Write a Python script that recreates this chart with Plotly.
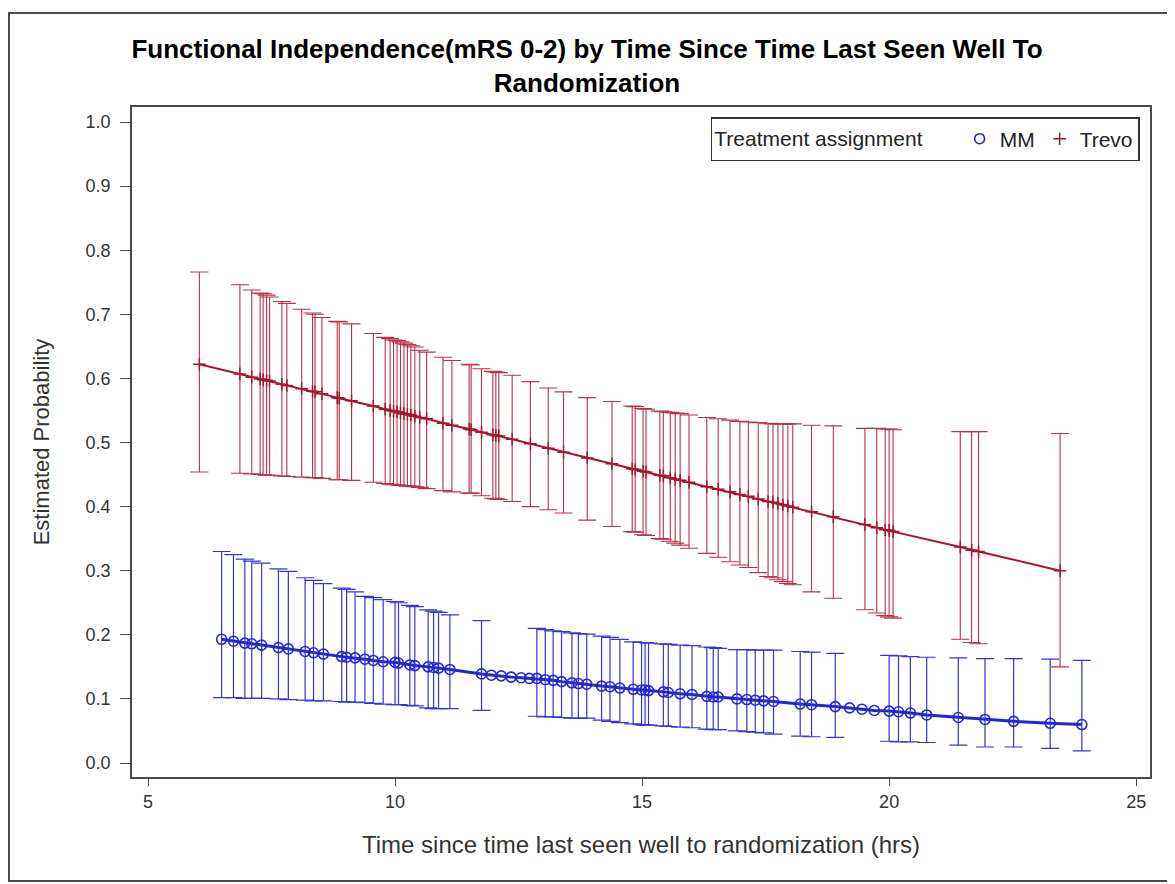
import plotly.graph_objects as go

# ---------------- data ----------------
trevo_x = [6.04, 6.86, 7.10, 7.27, 7.33, 7.40, 7.46, 7.71, 7.81, 8.11, 8.33, 8.38, 8.52, 8.83, 8.87,
           9.12, 9.56, 9.80, 9.90, 9.97, 10.04, 10.11, 10.18, 10.25, 10.32, 10.40, 10.50, 10.64,
           10.97, 11.15, 11.50, 11.54, 11.75, 11.98, 12.04, 12.10, 12.37, 12.74, 13.10, 13.41,
           13.89, 14.39, 14.80, 14.86, 15.02, 15.08, 15.36, 15.43, 15.57, 15.67, 15.77, 15.95,
           16.31, 16.54, 16.78, 16.98, 17.15, 17.35, 17.55, 17.65, 17.75, 17.85, 17.95, 18.05,
           18.43, 18.87, 19.51, 19.75, 19.92, 20.00, 20.08, 21.44, 21.67, 21.81, 23.46]
trevo_p = [0.622, 0.607, 0.602, 0.599, 0.598, 0.597, 0.596, 0.591, 0.589, 0.584, 0.580, 0.579,
           0.576, 0.570, 0.569, 0.565, 0.557, 0.552, 0.550, 0.549, 0.548, 0.546, 0.545, 0.544,
           0.543, 0.541, 0.539, 0.537, 0.530, 0.527, 0.521, 0.520, 0.516, 0.512, 0.511, 0.510,
           0.505, 0.498, 0.491, 0.485, 0.476, 0.467, 0.459, 0.458, 0.455, 0.454, 0.449, 0.448,
           0.445, 0.443, 0.441, 0.438, 0.431, 0.427, 0.423, 0.419, 0.416, 0.412, 0.408, 0.407,
           0.405, 0.403, 0.401, 0.399, 0.392, 0.384, 0.372, 0.367, 0.364, 0.363, 0.361, 0.337,
           0.332, 0.330, 0.300]
trevo_upper = [0.766, 0.746, 0.738, 0.733, 0.732, 0.730, 0.727, 0.720, 0.717, 0.708, 0.702, 0.700,
               0.695, 0.689, 0.688, 0.685, 0.670, 0.664, 0.662, 0.660, 0.659, 0.657, 0.655, 0.653,
               0.651, 0.649, 0.644, 0.641, 0.633, 0.628, 0.622, 0.621, 0.615, 0.611, 0.610, 0.609,
               0.605, 0.595, 0.585, 0.579, 0.570, 0.564, 0.557, 0.556, 0.553, 0.552, 0.549, 0.548,
               0.547, 0.546, 0.545, 0.543, 0.539, 0.537, 0.535, 0.533, 0.532, 0.531, 0.530, 0.529,
               0.529, 0.529, 0.529, 0.529, 0.527, 0.526, 0.522, 0.522, 0.521, 0.521, 0.520, 0.517,
               0.517, 0.517, 0.514]
trevo_lower = [0.454, 0.452, 0.451, 0.450, 0.450, 0.449, 0.449, 0.448, 0.447, 0.446, 0.445, 0.445,
               0.444, 0.442, 0.442, 0.441, 0.438, 0.436, 0.435, 0.434, 0.434, 0.433, 0.433, 0.432,
               0.432, 0.431, 0.430, 0.428, 0.425, 0.423, 0.421, 0.421, 0.417, 0.413, 0.412, 0.411,
               0.408, 0.400, 0.395, 0.390, 0.379, 0.369, 0.361, 0.360, 0.356, 0.355, 0.350, 0.349,
               0.346, 0.343, 0.340, 0.335, 0.327, 0.321, 0.314, 0.309, 0.305, 0.297, 0.291, 0.289,
               0.286, 0.283, 0.280, 0.278, 0.267, 0.257, 0.239, 0.234, 0.230, 0.228, 0.226, 0.193,
               0.188, 0.186, 0.150]

mm_x = [6.49, 6.73, 6.96, 7.10, 7.30, 7.64, 7.84, 8.18, 8.35, 8.55, 8.92, 9.02, 9.19, 9.39, 9.56,
        9.76, 10.00, 10.07, 10.30, 10.40, 10.67, 10.78, 10.88, 11.11, 11.75, 12.87, 13.04, 13.20,
        13.37, 13.58, 13.71, 13.88, 14.18, 14.35, 14.55, 14.82, 14.99, 15.06, 15.13, 15.43, 15.53,
        15.77, 16.01, 16.31, 16.44, 16.54, 16.92, 17.12, 17.29, 17.46, 17.66, 18.20, 18.43, 18.91,
        20.00, 20.19, 20.43, 20.76, 21.40, 21.94, 22.52, 23.26, 23.90]
mm_p = [0.193, 0.190, 0.187, 0.186, 0.184, 0.180, 0.178, 0.174, 0.172, 0.170, 0.166, 0.165, 0.164,
        0.162, 0.160, 0.158, 0.157, 0.156, 0.153, 0.152, 0.150, 0.149, 0.148, 0.146, 0.139, 0.132,
        0.130, 0.129, 0.127, 0.125, 0.124, 0.123, 0.120, 0.119, 0.117, 0.115, 0.114, 0.114, 0.113,
        0.111, 0.110, 0.108, 0.107, 0.104, 0.103, 0.103, 0.100, 0.099, 0.098, 0.097, 0.096, 0.092,
        0.091, 0.088, 0.081, 0.080, 0.078, 0.075, 0.071, 0.068, 0.065, 0.062, 0.060]
mm_upper = [0.330, 0.325, 0.318, 0.315, 0.312, 0.303, 0.299, 0.289, 0.285, 0.280, 0.273, 0.271,
            0.267, 0.260, 0.258, 0.255, 0.252, 0.250, 0.246, 0.244, 0.239, 0.237, 0.235, 0.231,
            0.222, 0.210, 0.208, 0.206, 0.205, 0.203, 0.202, 0.201, 0.198, 0.196, 0.193, 0.189,
            0.188, 0.188, 0.187, 0.186, 0.185, 0.184, 0.183, 0.181, 0.180, 0.179, 0.177, 0.177,
            0.176, 0.176, 0.176, 0.174, 0.173, 0.171, 0.168, 0.167, 0.166, 0.165, 0.164, 0.163,
            0.163, 0.162, 0.160]
mm_lower = [0.102, 0.102, 0.101, 0.101, 0.101, 0.100, 0.099, 0.098, 0.097, 0.097, 0.096, 0.095,
            0.095, 0.094, 0.093, 0.092, 0.091, 0.091, 0.090, 0.089, 0.086, 0.085, 0.085, 0.085,
            0.082, 0.073, 0.072, 0.072, 0.071, 0.070, 0.070, 0.070, 0.067, 0.065, 0.063, 0.061,
            0.060, 0.059, 0.059, 0.058, 0.057, 0.056, 0.055, 0.053, 0.052, 0.052, 0.050, 0.049,
            0.048, 0.047, 0.045, 0.042, 0.041, 0.040, 0.034, 0.033, 0.033, 0.032, 0.028, 0.025,
            0.025, 0.023, 0.019]

# MM estimates shown without visible interval bars
mm_pts_x = [11.95, 12.15, 12.35, 12.55, 12.72, 19.20, 19.45, 19.70]
mm_pts_p = [0.137, 0.136, 0.134, 0.133, 0.132, 0.086, 0.084, 0.082]

x_ticks = [5, 10, 15, 20, 25]
y_ticks = [0.0, 0.1, 0.2, 0.3, 0.4, 0.5, 0.6, 0.7, 0.8, 0.9, 1.0]

TITLE = "Functional Independence(mRS 0-2) by Time Since Time Last Seen Well To<br>Randomization"
X_TITLE = "Time since time last seen well to randomization (hrs)"
Y_TITLE = "Estimated Probability"
LEGEND_TITLE = "Treatment assignment"

RED = "#A8142F"
RED_BAR = "#B8304A"
BLUE = "#2626D0"
BLUE_BAR = "#3434D8"
FONT = "Liberation Sans, Arial, sans-serif"

fig = go.Figure()

line_x = mm_x[:25] + mm_pts_x[:5] + mm_x[25:54] + mm_pts_x[5:] + mm_x[54:]
line_p = mm_p[:25] + mm_pts_p[:5] + mm_p[25:54] + mm_pts_p[5:] + mm_p[54:]

fig.add_trace(go.Scatter(x=trevo_x, y=trevo_p, mode="lines", line=dict(color=RED, width=2),
                         showlegend=False, hoverinfo="skip"))
fig.add_trace(go.Scatter(x=line_x, y=line_p, mode="lines", line=dict(color=BLUE, width=3),
                         showlegend=False, hoverinfo="skip"))
fig.add_trace(go.Scatter(x=mm_pts_x, y=mm_pts_p, mode="markers",
                         marker=dict(symbol="circle-open", size=10, color=BLUE, line=dict(width=1.6)),
                         showlegend=False))

fig.add_trace(go.Scatter(
    x=mm_x, y=mm_p, mode="markers", name="MM",
    marker=dict(symbol="circle-open", size=10, color=BLUE, line=dict(width=1.6)),
    error_y=dict(type="data", symmetric=False,
                 array=[u - p for u, p in zip(mm_upper, mm_p)],
                 arrayminus=[p - l for p, l in zip(mm_p, mm_lower)],
                 color=BLUE_BAR, thickness=1.2, width=9)))

fig.add_trace(go.Scatter(
    x=trevo_x, y=trevo_p, mode="markers", name="Trevo",
    marker=dict(symbol="cross-thin", size=9, color=RED, line=dict(width=1.5, color=RED)),
    error_y=dict(type="data", symmetric=False,
                 array=[u - p for u, p in zip(trevo_upper, trevo_p)],
                 arrayminus=[p - l for p, l in zip(trevo_p, trevo_lower)],
                 color=RED_BAR, thickness=1.1, width=9)))

# page has an 8px body margin: figure pixel = page pixel - 8
W, H = 1167, 876
L, R, T, B = 124, 25, 99, 107
pw, ph = W - L - R, H - T - B

def px_x(p):
    return (p - L) / pw

def px_y(p):
    return (H - B - p) / ph

fig.add_shape(type="rect", xref="paper", yref="paper",
              x0=px_x(1), x1=px_x(1160), y0=px_y(873), y1=px_y(5),
              line=dict(color="#4a4a4a", width=2), fillcolor="rgba(0,0,0,0)", layer="below")

fig.update_layout(
    width=W, height=H,
    margin=dict(l=L, r=R, t=T, b=B),
    paper_bgcolor="white", plot_bgcolor="white",
    font=dict(family=FONT, color="#222222"),
    title=dict(text=TITLE, x=579 / W, xanchor="center", xref="container",
               y=1 - 50 / H, yanchor="middle", yref="container",
               font=dict(family=FONT, size=26, color="#000000", weight="bold")),
    xaxis=dict(range=[4.676, 25.28], tickvals=x_ticks, ticktext=[str(v) for v in x_ticks],
               showgrid=False, zeroline=False, showline=True, mirror=True,
               linecolor="#4a4a4a", linewidth=1.8, ticks="outside", ticklen=7,
               tickcolor="#4a4a4a", tickwidth=1.2, ticklabelstandoff=0,
               tickfont=dict(size=18, color="#333333"),
               title=dict(text=X_TITLE, font=dict(size=24, color="#333333"), standoff=26)),
    yaxis=dict(range=[-0.0218, 1.0234], tickvals=y_ticks, ticktext=[f"{v:.1f}" for v in y_ticks],
               showgrid=False, zeroline=False, showline=True, mirror=True,
               linecolor="#4a4a4a", linewidth=1.8, ticks="outside", ticklen=10,
               tickcolor="#4a4a4a", tickwidth=1.2, ticklabelstandoff=6,
               tickfont=dict(size=18, color="#333333"),
               title=dict(text=Y_TITLE, font=dict(size=22, color="#333333"), standoff=30)),
    legend=dict(orientation="h", x=0.99, xanchor="right", y=0.985, yanchor="top",
                bgcolor="white", bordercolor="#333333", borderwidth=1.5,
                font=dict(size=21, color="#222222"),
                title=dict(text=LEGEND_TITLE + "     ", side="left", font=dict(size=21, color="#222222")),
                itemwidth=30, traceorder="normal"),
)

fig.write_html("out.html")
